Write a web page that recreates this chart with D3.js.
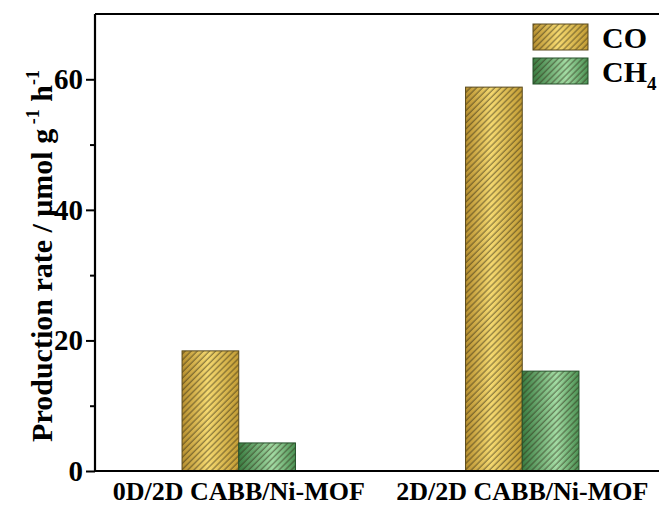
<!DOCTYPE html>
<html>
<head>
<meta charset="utf-8">
<script src="https://cdn.jsdelivr.net/npm/d3@7"></script>
<style>
  html, body { margin: 0; padding: 0; background: #fff; }
  svg { display: block; font-family: "Liberation Serif", "Times New Roman", serif; font-weight: bold; }
</style>
</head>
<body>
<svg id="chart" width="659" height="505"></svg>
<script>
// Samples and gases
const samples = ["0D/2D CABB/Ni-MOF", "2D/2D CABB/Ni-MOF"];
const gases = ["CO", "CH4"];
// Production rates (μmol g⁻¹ h⁻¹)
const coRate = [18.4, 58.8];
const ch4Rate = [4.3, 15.3];
const yTicks = [0, 20, 40, 60];
const yMinorTicks = [10, 30, 50];

const svg = d3.select("#chart");
const margin = { left: 95, top: 14, bottom: 471, right: 662 };

const x = d3.scaleBand().domain(samples).range([margin.left + 2, margin.right + 2]).paddingInner(0.6).paddingOuter(0.3);
const xSub = d3.scaleBand().domain(gases).range([0, x.bandwidth()]);
const y = d3.scaleLinear().domain([0, 70]).range([margin.bottom, margin.top]);

const defs = svg.append("defs");

// Horizontal shading gradients for each gas
const grads = {
  CO: [["0%", "#b89030"], ["45%", "#f5d970"], ["100%", "#c29c35"]],
  CH4: [["0%", "#3b7d42"], ["60%", "#a3dca4"], ["100%", "#4c9254"]]
};
Object.entries(grads).forEach(([k, stops]) => {
  const g = defs.append("linearGradient").attr("id", "grad-" + k).attr("x1", "0%").attr("x2", "100%").attr("y1", "0%").attr("y2", "0%");
  stops.forEach(([o, c]) => g.append("stop").attr("offset", o).attr("stop-color", c));
});

// Diagonal hatching
const hatch = defs.append("pattern").attr("id", "hatch").attr("patternUnits", "userSpaceOnUse")
  .attr("width", 4.3).attr("height", 4.3).attr("patternTransform", "rotate(45)");
hatch.append("line").attr("x1", 1).attr("y1", 0).attr("x2", 1).attr("y2", 4.3)
  .attr("stroke", "#2e2a14").attr("stroke-opacity", 0.6).attr("stroke-width", 1.1);

const rows = samples.map((s, i) => ({ sample: s, values: [{ gas: "CO", v: coRate[i] }, { gas: "CH4", v: ch4Rate[i] }] }));

const groups = svg.append("g").selectAll("g").data(rows).join("g")
  .attr("transform", d => `translate(${x(d.sample)},0)`);

const bars = groups.selectAll("g.bar").data(d => d.values).join("g").attr("class", "bar");
bars.append("rect")
  .attr("x", d => xSub(d.gas)).attr("width", xSub.bandwidth())
  .attr("y", d => y(d.v)).attr("height", d => y(0) - y(d.v))
  .attr("fill", d => `url(#grad-${d.gas})`);
bars.append("rect")
  .attr("x", d => xSub(d.gas)).attr("width", xSub.bandwidth())
  .attr("y", d => y(d.v)).attr("height", d => y(0) - y(d.v))
  .attr("fill", "url(#hatch)")
  .attr("stroke", d => d.gas === "CO" ? "#5a4a1c" : "#24502a").attr("stroke-width", 1);

// Frame: top line and axes
svg.append("line").attr("x1", margin.left).attr("x2", 659).attr("y1", margin.top).attr("y2", margin.top)
  .attr("stroke", "#000").attr("stroke-width", 2.2);

const yAxis = svg.append("g").attr("transform", `translate(${margin.left},0)`)
  .call(d3.axisLeft(y).tickValues(yTicks).tickSize(9).tickPadding(3).tickFormat(d3.format("d")));
yAxis.select(".domain").attr("stroke-width", 2.2).attr("d", `M0,${margin.bottom}V${margin.top}`);
yAxis.selectAll(".tick line").attr("stroke-width", 2);
yAxis.selectAll(".tick text").attr("font-size", 29).attr("font-family", "Liberation Serif, serif").attr("font-weight", "bold").attr("fill", "#000");
svg.append("g").attr("transform", `translate(${margin.left},0)`)
  .call(d3.axisLeft(y).tickValues(yMinorTicks).tickSize(5).tickFormat(""))
  .call(g => g.select(".domain").remove())
  .selectAll(".tick line").attr("stroke-width", 2);

const xAxis = svg.append("g").attr("transform", `translate(0,${margin.bottom})`)
  .call(d3.axisBottom(x).tickSize(0).tickPadding(9));
xAxis.select(".domain").attr("stroke-width", 2.2).attr("d", `M${margin.left - 1},0H659`);
xAxis.selectAll(".tick text").attr("font-size", 26).attr("font-family", "Liberation Serif, serif").attr("font-weight", "bold").attr("fill", "#000").attr("dy", "0.75em");

// Y-axis title with superscripts
const yt = svg.append("text").attr("transform", "translate(52,256) rotate(-90)")
  .attr("text-anchor", "middle").attr("font-size", 30);
yt.append("tspan").text("Production rate / \u03bcmol g");
yt.append("tspan").attr("font-size", 18).attr("dy", -13).text(" -1");
yt.append("tspan").attr("dy", 13).text(" h");
yt.append("tspan").attr("font-size", 18).attr("dy", -13).text("-1");

// Legend
const legend = svg.append("g").attr("transform", "translate(533,24)");
const legendItems = legend.selectAll("g").data(gases).join("g").attr("transform", (d, i) => `translate(0,${i * 34})`);
legendItems.append("rect").attr("width", 55).attr("height", 26).attr("fill", d => `url(#grad-${d})`);
legendItems.append("rect").attr("width", 55).attr("height", 26).attr("fill", "url(#hatch)")
  .attr("stroke", d => d === "CO" ? "#5a4a1c" : "#24502a").attr("stroke-width", 1);
const lt = legendItems.append("text").attr("x", 69).attr("y", 24).attr("font-size", 30);
lt.each(function(d) {
  const t = d3.select(this);
  if (d === "CH4") {
    t.append("tspan").text("CH");
    t.append("tspan").attr("font-size", 19).attr("dy", 8).text("4");
  } else {
    t.text(d);
  }
});
</script>
</body>
</html>
